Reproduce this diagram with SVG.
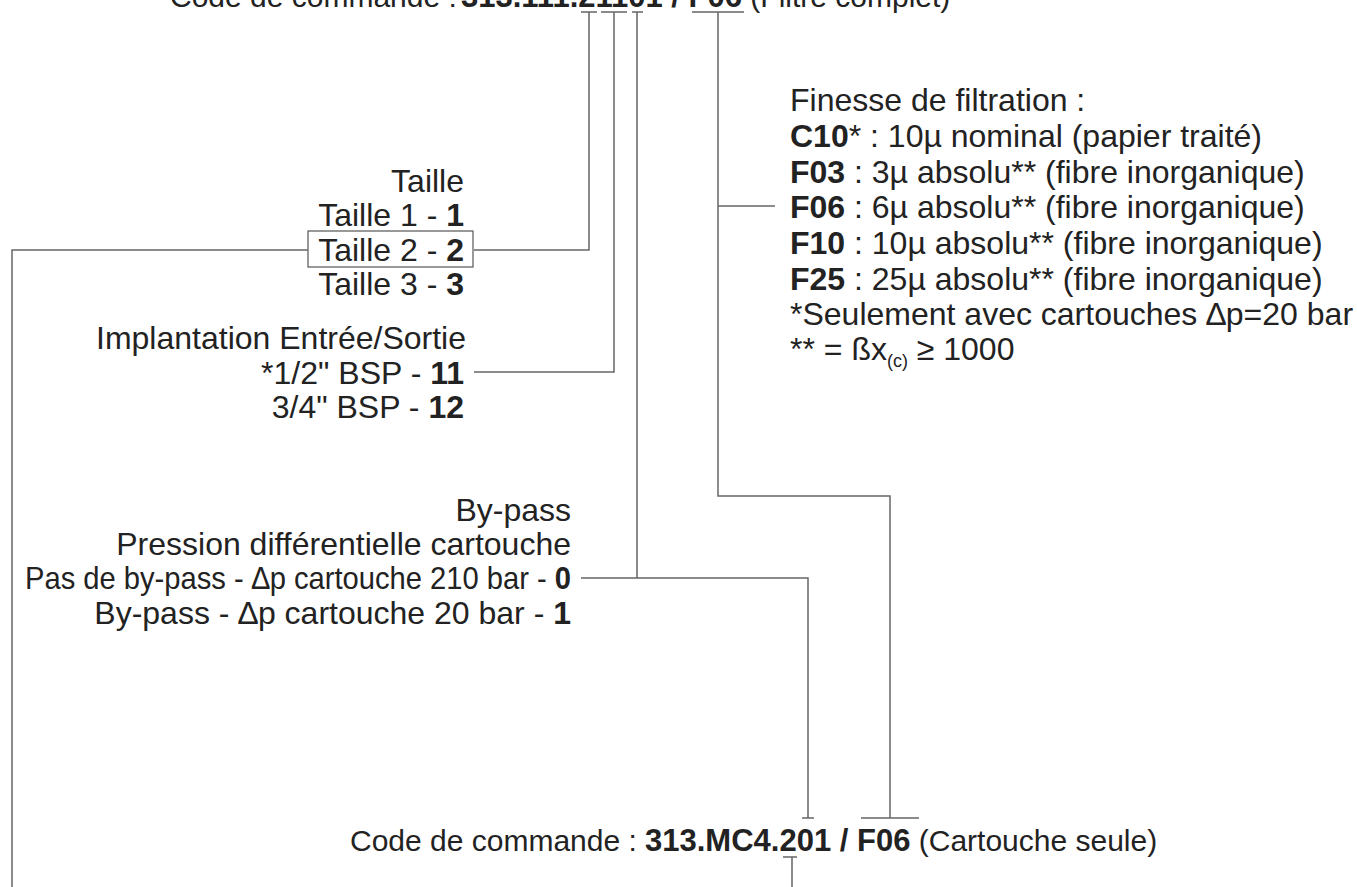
<svg xmlns="http://www.w3.org/2000/svg" width="1357" height="887" viewBox="0 0 1357 887">
<style>
text{font-family:"Liberation Sans",Arial,sans-serif;font-size:32px;fill:#222}
.b{font-weight:bold}
.code{font-size:30px}
.code .b{font-size:31px}
.sub{font-size:18px}
.ln{stroke:#666;stroke-width:1.5;fill:none}
.box{stroke:#555;stroke-width:1.2;fill:none}
</style>
<rect width="1357" height="887" fill="#fff"/>
<g id="top-code">
<text class="code" x="170" y="7">Code de commande :<tspan class="b" x="461">313.111.21101 / F06</tspan> (Filtre complet)</text>
</g>
<g id="taille">
<text x="464" y="192" text-anchor="end">Taille</text>
<text x="464" y="226" text-anchor="end">Taille 1 - <tspan class="b">1</tspan></text>
<rect class="box" x="308" y="231" width="165" height="36"/>
<text x="464" y="261" text-anchor="end">Taille 2 - <tspan class="b">2</tspan></text>
<text x="464" y="295" text-anchor="end">Taille 3 - <tspan class="b">3</tspan></text>
</g>
<g id="implantation">
<text x="466" y="349" text-anchor="end">Implantation Entrée/Sortie</text>
<text x="464" y="384" text-anchor="end">*1/2" BSP - <tspan class="b">11</tspan></text>
<text x="464" y="418" text-anchor="end">3/4" BSP - <tspan class="b">12</tspan></text>
</g>
<g id="bypass">
<text x="571" y="521" text-anchor="end">By-pass</text>
<text x="571" y="555" text-anchor="end">Pression différentielle cartouche</text>
<text x="25" y="589" textLength="546" lengthAdjust="spacingAndGlyphs">Pas de by-pass - ∆p cartouche 210 bar - <tspan class="b">0</tspan></text>
<text x="571" y="624" text-anchor="end">By-pass - ∆p cartouche 20 bar - <tspan class="b">1</tspan></text>
</g>
<g id="finesse">
<text x="790" y="111">Finesse de filtration :</text>
<text x="790" y="147"><tspan class="b">C10</tspan>* : 10µ nominal (papier traité)</text>
<text x="790" y="183"><tspan class="b">F03</tspan> : 3µ absolu** (fibre inorganique)</text>
<text x="790" y="218"><tspan class="b">F06</tspan> : 6µ absolu** (fibre inorganique)</text>
<text x="790" y="254"><tspan class="b">F10</tspan> : 10µ absolu** (fibre inorganique)</text>
<text x="790" y="290"><tspan class="b">F25</tspan> : 25µ absolu** (fibre inorganique)</text>
<text x="790" y="325">*Seulement avec cartouches ∆p=20 bar</text>
<text x="790" y="360">** = ßx<tspan class="sub" dy="7">(c)</tspan><tspan dy="-7"> ≥ 1000</tspan></text>
</g>
<g id="bottom-code">
<text class="code" x="350" y="851">Code de commande :<tspan class="b" x="645">313.MC4.201 / F06</tspan> (Cartouche seule)</text>
</g>
<g id="connectors">
<path class="ln" d="M581 12H597M589 12V250H474"/>
<path class="ln" d="M308 250H12V887"/>
<path class="ln" d="M601 12H627M614 12V372H474"/>
<path class="ln" d="M632 12H643M637 12V578"/>
<path class="ln" d="M581 578H808V818M802 818H814"/>
<path class="ln" d="M692 12H744M718 12V496H890V818M861 818H919"/>
<path class="ln" d="M718 206H775"/>
<path class="ln" d="M783 857H797M792 857V887"/>
</g>
</svg>
